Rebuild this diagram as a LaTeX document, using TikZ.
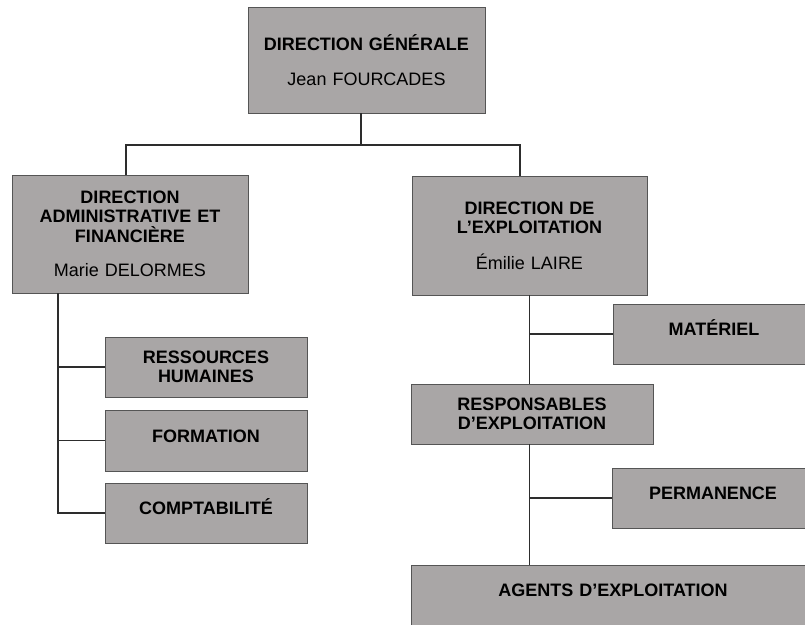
\documentclass[tikz,border=0pt]{standalone}
\usepackage{fontspec}
\setmainfont{Liberation Sans}
\usetikzlibrary{positioning}
\definecolor{boxgray}{RGB}{169,166,166}
\definecolor{edgegray}{RGB}{85,85,85}
\definecolor{linkgray}{RGB}{45,45,45}
\tikzset{
	unit/.style={draw=edgegray, line width=1pt, fill=boxgray, inner sep=0pt, outer sep=0pt, align=center, text width=#1, font=\fontsize{18}{19.5}\selectfont\bfseries},
	single/.style={text height=13pt, text depth=#1},
	single/.default=10pt,
	link/.style={draw=linkgray, line width=1.5pt},
}

\begin{document}
\begin{tikzpicture}[x=1pt,y=1pt]
	\useasboundingbox (0,0) rectangle (805,-624);
	\node[unit=237pt, minimum height=106pt] (dg) at (366.5,-60) {DIRECTION GÉNÉRALE\\[16pt]\mdseries Jean FOURCADES};
	\node[unit=236pt, minimum height=118pt, below left=62pt and 0pt of dg.south west] (daf) {DIRECTION\\ADMINISTRATIVE ET\\FINANCIÈRE\\[15pt]\mdseries Marie DELORMES};
	\node[unit=235pt, minimum height=119pt, below right=63pt and 45.5pt of dg.south] (dex) {DIRECTION DE\\L’EXPLOITATION\\[16pt]\mdseries Émilie LAIRE};
	\node[unit=202pt, minimum height=60pt, below right=44pt and 93pt of daf.south west] (rh) {RESSOURCES\\HUMAINES};
	\node[unit=202pt, single, minimum height=61pt, below=13pt of rh] (form) {FORMATION};
	\node[unit=202pt, single, minimum height=60pt, below=12pt of form] (compta) {COMPTABILITÉ};
	\node[unit=202pt, single, minimum height=60pt, below right=9pt and 201pt of dex.south west] (mat) {MATÉRIEL};
	\node[unit=242pt, minimum height=60pt, below right=89pt and -1pt of dex.south west] (re) {RESPONSABLES\\D’EXPLOITATION};
	\node[unit=202pt, single, minimum height=60pt, below right=24pt and 201pt of re.south west] (perm) {PERMANENCE};
	\node[unit=404pt, single=20pt, minimum height=70pt, below right=121pt and 0pt of re.south west] (agents) {AGENTS D’EXPLOITATION};
	\coordinate[below=32pt of dg.south, xshift=-5.5pt] (hub);
	\coordinate[right=46pt of daf.south west] (dafroot);
	\draw[link] ([xshift=-5.5pt]dg.south) -- (hub);
	\draw[link] ([xshift=-4pt]daf.north) |- (hub) -| ([xshift=-9.5pt]dex.north);
	\draw[link] (dafroot) |- (compta.west);
	\draw[link] (dafroot |- rh.west) -- (rh.west);
	\draw[link] (dafroot |- form.west) -- (form.west);
	\draw[link] (dex.south) -- (dex.south |- re.north);
	\draw[link] (dex.south |- mat.west) -- (mat.west);
	\draw[link] (dex.south |- re.south) -- (dex.south |- agents.north);
	\draw[link] (dex.south |- perm.west) -- (perm.west);
\end{tikzpicture}
\end{document}
